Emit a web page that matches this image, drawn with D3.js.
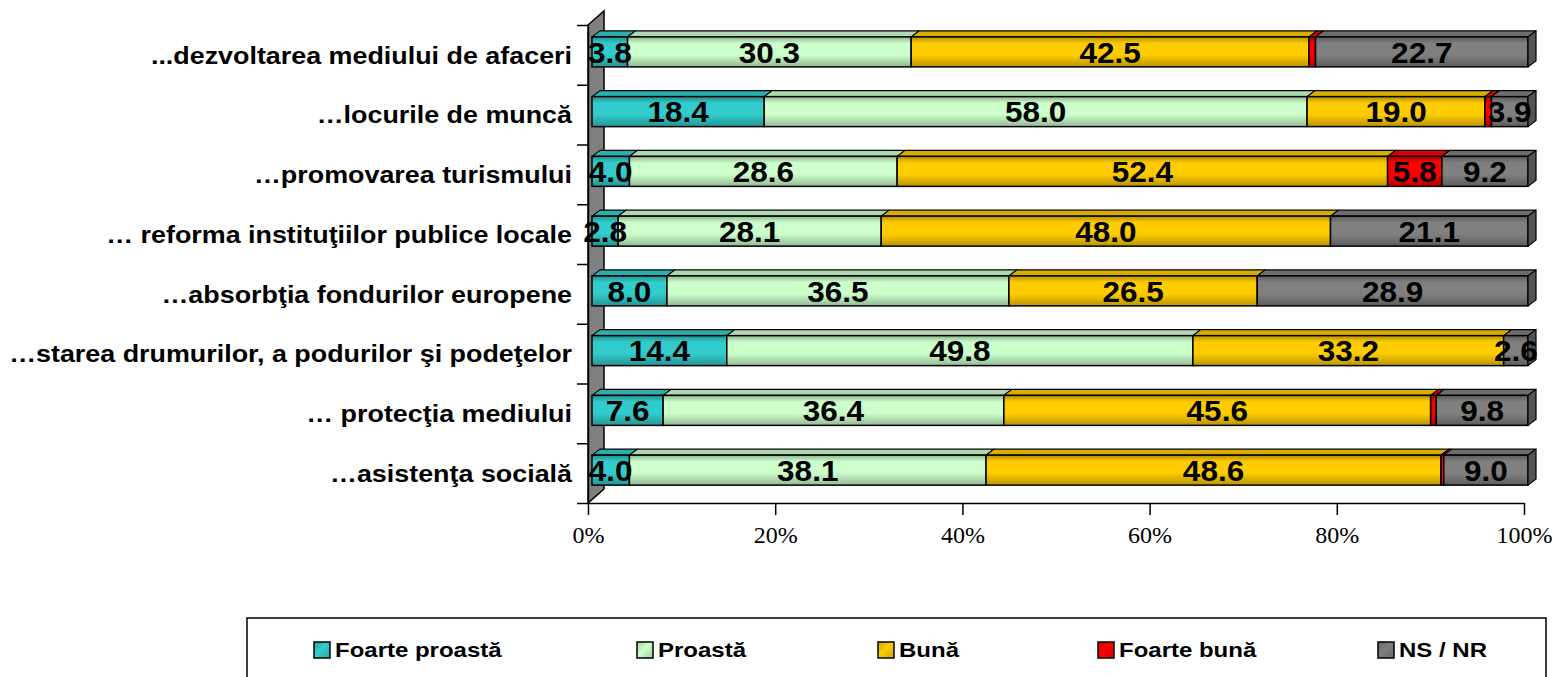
<!DOCTYPE html>
<html>
<head>
<meta charset="utf-8">
<script src="https://cdn.jsdelivr.net/npm/d3@7"></script>
<style>
  body { margin: 0; background: #fff; }
  svg { display: block; }
</style>
</head>
<body>
<svg id="chart" width="1555" height="677"></svg>
<script>
// ---- data -------------------------------------------------------------
const categories = [
  "...dezvoltarea mediului de afaceri",
  "…locurile de muncă",
  "…promovarea turismului",
  "… reforma instituţiilor publice locale",
  "…absorbţia fondurilor europene",
  "…starea drumurilor, a podurilor şi podeţelor",
  "… protecţia mediului",
  "…asistenţa socială"
];
const seriesNames = ["Foarte proastă", "Proastă", "Bună", "Foarte bună", "NS / NR"];
const foarteProasta = [3.8, 18.4, 4.0, 2.8, 8.0, 14.4, 7.6, 4.0];
const proasta       = [30.3, 58.0, 28.6, 28.1, 36.5, 49.8, 36.4, 38.1];
const buna          = [42.5, 19.0, 52.4, 48.0, 26.5, 33.2, 45.6, 48.6];
const foarteBuna    = [0.7, 0.7, 5.8, 0, 0, 0, 0.6, 0.3];
const nsNr          = [22.7, 3.9, 9.2, 21.1, 28.9, 2.6, 9.8, 9.0];
const tickValues    = [0, 0.2, 0.4, 0.6, 0.8, 1.0];

const seriesValues = [foarteProasta, proasta, buna, foarteBuna, nsNr];
const seriesColors = ["#33CCCC", "#CCFFCC", "#FFCC00", "#FF0000", "#808080"];

// ---- layout -----------------------------------------------------------
const plot = { left: 588, right: 1524, top: 25, bottom: 503 };
const wallDepth = { dx: 16, dy: -14 };   // back wall offset
const barFront = { dx: 4, dy: -3 };      // front face of the bars
const barDepth = { dx: 8, dy: -6 };      // thickness of the bars
const barHeight = 30;

const svg = d3.select("#chart");
const defs = svg.append("defs");

const x = d3.scaleLinear().domain([0, 1]).range([plot.left, plot.right]);
const y = d3.scaleBand().domain(d3.range(categories.length))
  .range([plot.top, plot.bottom]);
const yTicks = d3.scaleLinear().domain([0, categories.length])
  .range([plot.top, plot.bottom]);

// shaded fills for the bar faces
seriesColors.forEach((c, i) => {
  const base = d3.rgb(c);
  const g = defs.append("linearGradient")
    .attr("id", "grad" + i).attr("x1", 0).attr("y1", 0).attr("x2", 0).attr("y2", 1);
  g.append("stop").attr("offset", "0%").attr("stop-color", base.darker(1.0));
  g.append("stop").attr("offset", "22%").attr("stop-color", base);
  g.append("stop").attr("offset", "60%").attr("stop-color", base);
  g.append("stop").attr("offset", "100%").attr("stop-color", base.darker(0.9));

  const s = defs.append("linearGradient")
    .attr("id", "swatch" + i).attr("x1", 0).attr("y1", 0).attr("x2", 1).attr("y2", 1);
  s.append("stop").attr("offset", "0%").attr("stop-color", base.darker(0.6));
  s.append("stop").attr("offset", "45%").attr("stop-color", base);
  s.append("stop").attr("offset", "100%").attr("stop-color", base.darker(0.6));
});

// ---- back wall ----------------------------------------------------------
svg.append("polygon")
  .attr("points", [
    [plot.left, plot.top],
    [plot.left + wallDepth.dx, plot.top + wallDepth.dy],
    [plot.left + wallDepth.dx, plot.bottom + wallDepth.dy],
    [plot.left, plot.bottom]
  ].map(p => p.join(",")).join(" "))
  .attr("fill", "#808080")
  .attr("stroke", "#000")
  .attr("stroke-width", 1.5);

// ---- category axis (ticks between bands) ---------------------------------
const yAxis = svg.append("g")
  .attr("transform", `translate(${plot.left},0)`)
  .call(d3.axisLeft(yTicks).tickValues(d3.range(categories.length + 1))
    .tickFormat("").tickSize(11).tickSizeOuter(0));
yAxis.selectAll("line, path").attr("stroke", "#000").attr("stroke-width", 1.5);

svg.append("g").selectAll("text")
  .data(categories)
  .join("text")
  .attr("transform", (d, i) => `translate(572,${y(i) + y.bandwidth() / 2}) scale(1.12,1)`)
  .attr("text-anchor", "end")
  .attr("dy", "0.36em")
  .attr("font-family", "'Liberation Sans', Arial, sans-serif")
  .attr("font-weight", "bold")
  .attr("font-size", 24)
  .attr("fill", "#000")
  .text(d => d);

// ---- value axis ---------------------------------------------------------
const xAxis = svg.append("g")
  .attr("transform", `translate(0,${plot.bottom})`)
  .call(d3.axisBottom(x).tickValues(tickValues).tickFormat(d3.format(".0%"))
    .tickSize(12).tickSizeOuter(0).tickPadding(11));
xAxis.selectAll("line, path").attr("stroke", "#000").attr("stroke-width", 1.5);
xAxis.selectAll("text")
  .attr("font-family", "'Liberation Serif', 'Times New Roman', serif")
  .attr("font-size", 24)
  .attr("fill", "#000");

// ---- stacked 3D bars ----------------------------------------------------
const rows = categories.map((c, i) => {
  const vals = seriesValues.map(s => s[i]);
  const total = d3.sum(vals);
  let acc = 0;
  return vals.map((v, k) => {
    const seg = { row: i, series: k, value: v, x0: acc / total, x1: (acc + v) / total };
    acc += v;
    return seg;
  });
});

const bars = svg.append("g");
rows.forEach((segs, i) => {
  const yTop = y(i) + (y.bandwidth() - barHeight) / 2 + barFront.dy;
  const g = bars.append("g");
  const visible = segs.filter(s => s.value > 0);
  visible.forEach((s, idx) => {
    const xa = x(s.x0) + barFront.dx;
    const xb = x(s.x1) + barFront.dx;
    const base = d3.rgb(seriesColors[s.series]);
    // top face
    g.append("polygon")
      .attr("points", [
        [xa, yTop], [xa + barDepth.dx, yTop + barDepth.dy],
        [xb + barDepth.dx, yTop + barDepth.dy], [xb, yTop]
      ].map(p => p.join(",")).join(" "))
      .attr("fill", base.darker(0.45))
      .attr("stroke", "#000").attr("stroke-width", 1.2).attr("stroke-linejoin", "round");
    // front face
    g.append("rect")
      .attr("x", xa).attr("y", yTop)
      .attr("width", Math.max(0, xb - xa)).attr("height", barHeight)
      .attr("fill", `url(#grad${s.series})`)
      .attr("stroke", "#000").attr("stroke-width", 1.5);
    // right end face
    if (idx === visible.length - 1) {
      g.append("polygon")
        .attr("points", [
          [xb, yTop], [xb + barDepth.dx, yTop + barDepth.dy],
          [xb + barDepth.dx, yTop + barHeight + barDepth.dy], [xb, yTop + barHeight]
        ].map(p => p.join(",")).join(" "))
        .attr("fill", base.darker(1.2))
        .attr("stroke", "#000").attr("stroke-width", 1.2).attr("stroke-linejoin", "round");
    }
  });
});

// value labels
svg.append("g").selectAll("text")
  .data(rows.flat().filter(s => s.value >= 1))
  .join("text")
  .attr("transform", s => {
    const cx = (x(s.x0) + x(s.x1)) / 2 + barFront.dx;
    const cy = y(s.row) + y.bandwidth() / 2 + barFront.dy;
    return `translate(${cx},${cy}) scale(1.05,1)`;
  })
  .attr("text-anchor", "middle")
  .attr("dy", "0.36em")
  .attr("font-family", "'Liberation Sans', Arial, sans-serif")
  .attr("font-weight", "bold")
  .attr("font-size", 30)
  .attr("fill", "#000")
  .text(s => s.value.toFixed(1));

// ---- legend -------------------------------------------------------------
const legend = svg.append("g");
legend.append("rect")
  .attr("x", 247).attr("y", 618).attr("width", 1299).attr("height", 80)
  .attr("fill", "#fff").attr("stroke", "#000").attr("stroke-width", 1.5);
const legendX = [314, 637, 878, 1098, 1378];
const item = legend.selectAll("g.item")
  .data(seriesNames)
  .join("g")
  .attr("class", "item")
  .attr("transform", (d, i) => `translate(${legendX[i]},650)`);
item.append("rect")
  .attr("x", 0).attr("y", -8).attr("width", 16).attr("height", 16)
  .attr("fill", (d, i) => `url(#swatch${i})`)
  .attr("stroke", "#000").attr("stroke-width", 1.5);
item.append("text")
  .attr("transform", "translate(21,0) scale(1.2,1)")
  .attr("dy", "0.36em")
  .attr("font-family", "'Liberation Sans', Arial, sans-serif")
  .attr("font-weight", "bold")
  .attr("font-size", 20)
  .attr("fill", "#000")
  .text(d => d);
</script>
</body>
</html>
